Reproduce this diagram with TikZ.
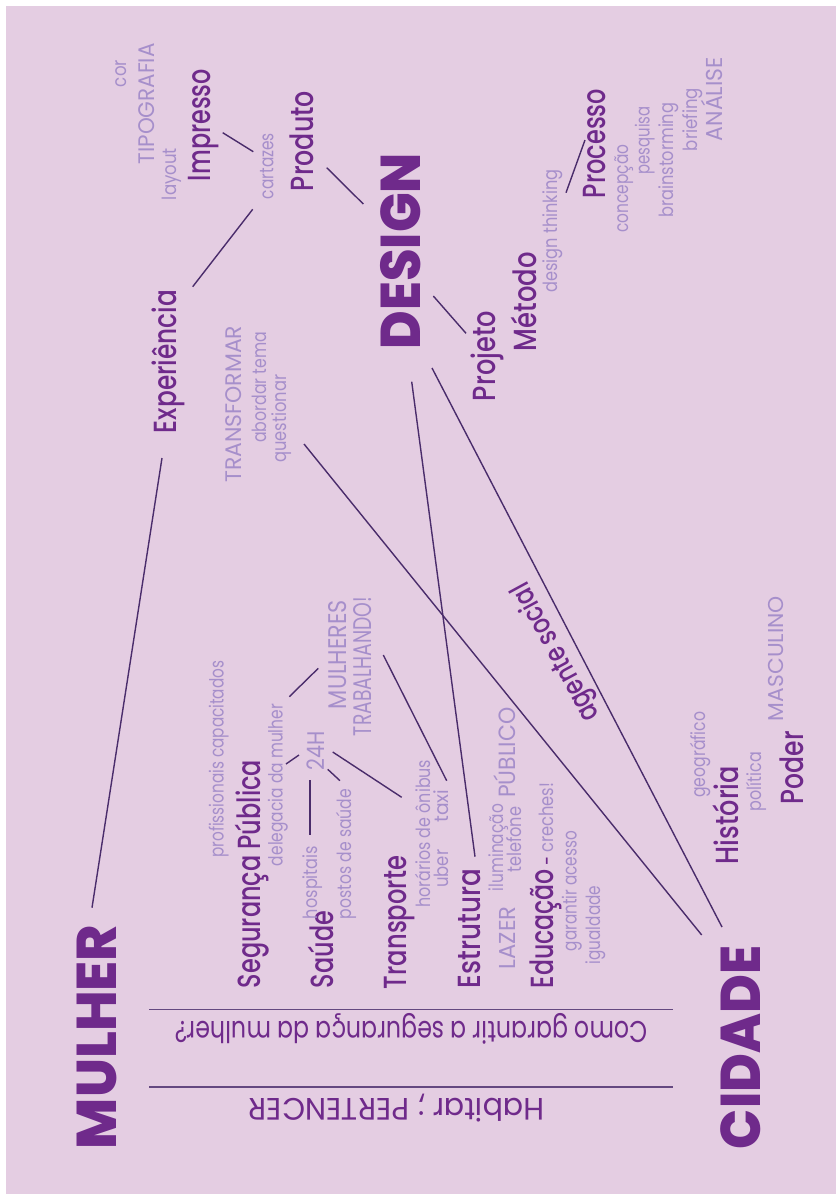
\documentclass[tikz,border=0pt]{standalone}
\usepackage{fontspec}
\usepackage{graphicx}
\setmainfont{Poppins}
\newfontfamily\pbold{Poppins ExtraBold}
\newfontfamily\pmed{Poppins Medium}
\newfontfamily\plight{Poppins}
\newfontfamily\preg{Poppins}
\definecolor{bg}{RGB}{228,205,226}
\definecolor{dk}{RGB}{111,42,139}
\definecolor{lt}{RGB}{166,143,203}
\definecolor{ln}{RGB}{74,44,107}
\definecolor{rl}{RGB}{100,72,128}
\newsavebox\fitbox
\newcommand\fitt[3]{\sbox\fitbox{#2#3}\pgfmathsetmacro\fitfac{#1/\the\wd\fitbox}\scalebox{\fitfac}[1]{\usebox\fitbox}}
\newcommand\fBig{\pbold\fontsize{56}{56}\selectfont}
\newcommand\fMed{\pmed\fontsize{32}{32}\selectfont}
\newcommand\fLow{\plight\fontsize{19.5}{19.5}\selectfont}
\newcommand\fCap[1]{\plight\fontsize{#1}{#1}\selectfont}
\newcommand\fReg{\preg\fontsize{30}{30}\selectfont}
\tikzset{
  lbl/.style={rotate=90,anchor=base west,inner sep=0pt,outer sep=0pt},
  upd/.style={rotate=180,anchor=base west,inner sep=0pt,outer sep=0pt},
  dk/.style={text=dk},
  lt/.style={text=lt},
  link/.style={draw=ln,line width=1.4pt},
  rule/.style={draw=rl,line width=1.6pt}
}
\begin{document}
\begin{tikzpicture}[x=1pt,y=-1pt]
\useasboundingbox (0,0) rectangle (836,1194);
\fill[white] (0,0) rectangle (836,1194);
\fill[bg] (6,6) rectangle (836,1194);

% big words
\node[lbl,dk] (mulher) at (116,1149) {\fitt{224}{\fBig}{MULHER}};
\node[lbl,dk] (design) at (420.7,349) {\fitt{196}{\fBig}{DESIGN}};
\node[lbl,dk] (cidade) at (760,1149) {\fitt{203}{\fBig}{CIDADE}};

% medium words
\node[lbl,dk] (impresso) at (210,181) {\fitt{112}{\fMed}{Impresso}};
\node[lbl,dk] (produto) at (313.3,191) {\fitt{100}{\fMed}{Produto}};
\node[lbl,dk] (experiencia) at (176,433) {\fitt{143}{\fMed}{Experiência}};
\node[lbl,dk] (processo) at (605,198) {\fitt{109}{\fMed}{Processo}};
\node[lbl,dk] (projeto) at (495,401) {\fitt{90}{\fMed}{Projeto}};
\node[lbl,dk] (metodo) at (536.7,351) {\fitt{99}{\fMed}{Método}};
\node[lbl,dk] (seguranca) at (260,988) {\fitt{228}{\fMed}{Segurança Pública}};
\node[lbl,dk] (saude) at (333.3,988) {\fitt{77}{\fMed}{Saúde}};
\node[lbl,dk] (transporte) at (406,989) {\fitt{133}{\fMed}{Transporte}};
\node[lbl,dk] (estrutura) at (480,988) {\fitt{119}{\fMed}{Estrutura}};
\node[lbl,dk] (educacao) at (553.3,988) {\fitt{119}{\fMed}{Educação}};
\node[lbl,dk] (dash) at (553.3,865.5) {\fitt{8.5}{\pmed\fontsize{18}{18}\selectfont}{–}};
\node[lbl,dk] (historia) at (738.3,864) {\fitt{98}{\fMed}{História}};
\node[lbl,dk] (poder) at (803.3,804) {\fitt{73}{\fMed}{Poder}};
\node[rotate=118.5,anchor=base west,inner sep=0pt,dk] (agente) at (600,716) {\fitt{154}{\pmed\fontsize{29}{29}\selectfont}{agente social}};

% light lowercase
\node[lbl,lt] (cor) at (126.7,87) {\fitt{27}{\fLow}{cor}};
\node[lbl,lt] (layout) at (176,200) {\fitt{52}{\fLow}{layout}};
\node[lbl,lt] (cartazes) at (273.3,199) {\fitt{66}{\fLow}{cartazes}};
\node[lbl,lt] (abordar) at (266,442.7) {\fitt{111}{\fLow}{abordar tema}};
\node[lbl,lt] (questionar) at (286,462.7) {\fitt{88}{\fLow}{questionar}};
\node[lbl,lt] (thinking) at (557,292.7) {\fitt{123}{\fLow}{design thinking}};
\node[lbl,lt] (concepcao) at (628,232.7) {\fitt{88}{\fLow}{concepção}};
\node[lbl,lt] (pesquisa) at (649.5,174.3) {\fitt{68}{\fLow}{pesquisa}};
\node[lbl,lt] (brainstorming) at (673,217.7) {\fitt{115}{\fLow}{brainstorming}};
\node[lbl,lt] (briefing) at (697,151) {\fitt{63}{\fLow}{briefing}};
\node[lbl,lt] (profissionais) at (223.5,857.7) {\fitt{197}{\fLow}{profissionais capacitados}};
\node[lbl,lt] (delegacia) at (282.5,866) {\fitt{162}{\fLow}{delegacia da mulher}};
\node[lbl,lt] (hospitais) at (317,919) {\fitt{73}{\fLow}{hospitais}};
\node[lbl,lt] (postos) at (351.7,919) {\fitt{130}{\fLow}{postos de saúde}};
\node[lbl,lt] (horarios) at (430,907.7) {\fitt{148}{\fLow}{horários de ônibus}};
\node[lbl,lt] (uber) at (448.3,887.7) {\fitt{38}{\fLow}{uber}};
\node[lbl,lt] (taxi) at (448.3,822.7) {\fitt{33}{\fLow}{taxi}};
\node[lbl,lt] (iluminacao) at (503,891) {\fitt{87}{\fLow}{iluminação}};
\node[lbl,lt] (telefone) at (521.7,872.7) {\fitt{66}{\fLow}{telefone}};
\node[lbl,lt] (creches) at (553.3,852.7) {\fitt{70}{\fLow}{creches!}};
\node[lbl,lt] (garantir) at (576.7,951) {\fitt{120}{\fLow}{garantir acesso}};
\node[lbl,lt] (igualdade) at (600,964.3) {\fitt{78.5}{\fLow}{igualdade}};
\node[lbl,lt] (geografico) at (705,797.7) {\fitt{86}{\fLow}{geográfico}};
\node[lbl,lt] (politica) at (761,811) {\fitt{59}{\fLow}{política}};

% light capitals
\node[lbl,lt] (tipografia) at (154,164.3) {\fitt{121}{\fCap{22.5}}{TIPOGRAFIA}};
\node[lbl,lt] (transformar) at (241.7,482.7) {\fitt{157}{\fCap{22.5}}{TRANSFORMAR}};
\node[lbl,lt] (analise) at (722.7,141) {\fitt{84}{\fCap{23}}{ANÁLISE}};
\node[lbl,lt] (h24) at (324,770) {\fitt{39}{\fCap{24}}{24H}};
\node[lbl,lt] (mulheres) at (346.7,709) {\fitt{109}{\fCap{25.5}}{MULHERES}};
\node[lbl,lt] (trabalhando) at (371.7,736) {\fitt{139}{\fCap{25.5}}{TRABALHANDO!}};
\node[lbl,lt] (publico) at (515,797.7) {\fitt{90}{\fCap{23.5}}{PÚBLICO}};
\node[lbl,lt] (lazer) at (515,969.3) {\fitt{63}{\fCap{23}}{LAZER}};
\node[lbl,lt] (masculino) at (783.3,721) {\fitt{125}{\fCap{21.5}}{MASCULINO}};

% upside-down lines
\node[upd,dk] (pergunta) at (647.7,1021.7) {\fitt{473}{\fReg}{Como garantir a segurança da mulher?}};
\node[upd,dk] (habitar) at (544.3,1098.3) {\fitt{296}{\preg\fontsize{31}{31}\selectfont}{Habitar ; PERTENCER}};

% rules
\coordinate (ruleA-l) at (149.3,1009.3);
\coordinate (ruleA-r) at (673.3,1009.3);
\coordinate (ruleB-l) at (149.3,1086.7);
\coordinate (ruleB-r) at (673.3,1086.7);
\draw[rule] (ruleA-l) -- (ruleA-r);
\draw[rule] (ruleB-l) -- (ruleB-r);

% connector end points
\coordinate (impresso-e) at (222.7,132.7);
\coordinate (cartazes-n) at (253.3,151.7);
\coordinate (cartazes-s) at (252.7,209.3);
\coordinate (experiencia-n) at (192.7,286.7);
\coordinate (produto-e) at (326.7,167.7);
\coordinate (design-n) at (363.3,204);
\coordinate (design-e) at (433.3,296);
\coordinate (projeto-n) at (466,333.3);
\coordinate (processo-w) at (585,140);
\coordinate (thinking-n) at (566,192.7);
\coordinate (design-s1) at (432,368);
\coordinate (cidade-n1) at (722,927);
\coordinate (design-s2) at (411.7,381.7);
\coordinate (estrutura-n) at (475,856.7);
\coordinate (experiencia-s) at (162,458);
\coordinate (mulher-n) at (92,907.7);
\coordinate (questionar-s) at (304,444);
\coordinate (cidade-n2) at (701.7,935);
\coordinate (delegacia-n) at (289.3,696.7);
\coordinate (mulheres-w) at (318.3,668.3);
\coordinate (delegacia-e) at (286,764);
\coordinate (h24-w) at (299,755);
\coordinate (h24-s) at (310,780);
\coordinate (hospitais-n) at (310,835);
\coordinate (h24-e) at (327.7,769.3);
\coordinate (postos-n) at (340,780.7);
\coordinate (h24-e2) at (332.7,752);
\coordinate (horarios-n) at (401.7,797.3);
\coordinate (trabalhando-e) at (383.3,655);
\coordinate (taxi-n) at (446.7,780.7);

\draw[link] (impresso-e) -- (cartazes-n);
\draw[link] (cartazes-s) -- (experiencia-n);
\draw[link] (produto-e) -- (design-n);
\draw[link] (design-e) -- (projeto-n);
\draw[link] (processo-w) -- (thinking-n);
\draw[link] (design-s1) -- (cidade-n1);
\draw[link] (design-s2) -- (estrutura-n);
\draw[link] (experiencia-s) -- (mulher-n);
\draw[link] (questionar-s) -- (cidade-n2);
\draw[link] (delegacia-n) -- (mulheres-w);
\draw[link] (delegacia-e) -- (h24-w);
\draw[link] (h24-s) -- (hospitais-n);
\draw[link] (h24-e) -- (postos-n);
\draw[link] (h24-e2) -- (horarios-n);
\draw[link] (trabalhando-e) -- (taxi-n);
\end{tikzpicture}
\end{document}
